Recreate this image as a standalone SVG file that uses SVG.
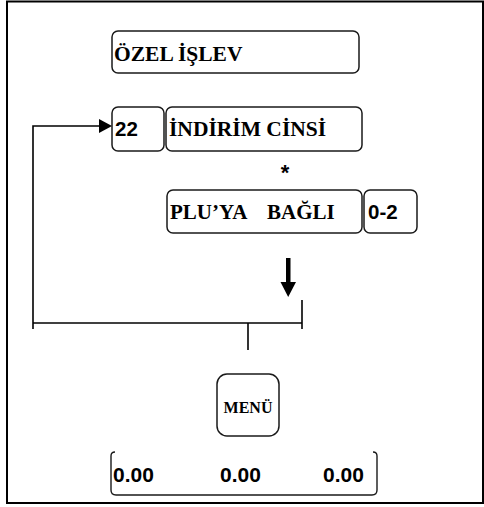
<svg xmlns="http://www.w3.org/2000/svg" width="484" height="507" viewBox="0 0 484 507">
<defs>
<style>
.box{fill:#fff;stroke:#1a1a1a;stroke-width:1.5}
.ln{fill:none;stroke:#000;stroke-width:1.6}
.serif{font-family:"Liberation Serif","Times New Roman",serif;font-weight:bold;fill:#000}
.sans{font-family:"Liberation Sans",Arial,sans-serif;font-weight:bold;fill:#000}
</style>
</defs>
<rect x="0" y="0" width="484" height="507" fill="#fff"/>
<rect id="frame" x="7" y="1.5" width="476" height="501.5" fill="none" stroke="#000" stroke-width="2"/>
<g id="n-ozel">
<rect class="box" x="112" y="31" width="247" height="42" rx="6"/>
<text class="serif" x="114" y="61" font-size="21.5">ÖZEL İŞLEV</text>
</g>
<g id="n-22">
<rect class="box" x="112" y="107" width="52" height="44" rx="6"/>
<text class="sans" x="115" y="136" font-size="20.5">22</text>
</g>
<g id="n-indirim">
<rect class="box" x="166" y="107" width="196" height="44" rx="6"/>
<text class="serif" x="169" y="136" font-size="21.5">İNDİRİM CİNSİ</text>
</g>
<g id="n-star">
<text class="sans" x="285" y="180" font-size="22" text-anchor="middle">*</text>
</g>
<g id="n-plu">
<rect class="box" x="167" y="190" width="195" height="43" rx="6"/>
<text class="serif" font-size="21" y="219"><tspan x="170">PLU’YA</tspan><tspan x="267">BAĞLI</tspan></text>
</g>
<g id="n-02">
<rect class="box" x="364" y="190" width="53" height="43" rx="6"/>
<text class="sans" x="368" y="219" font-size="20.5">0-2</text>
</g>
<g id="n-menu">
<rect class="box" x="217" y="374" width="62" height="62" rx="10"/>
<text class="serif" x="248" y="413" font-size="16" text-anchor="middle">MENÜ</text>
</g>
<g id="n-display">
<path class="ln" style="stroke-width:1.4;stroke:#1a1a1a" d="M115,452 Q111,452 111,456 L111,490 Q111,495 116,495 L372,495 Q377,495 377,490 L377,456 Q377,452 373,452"/>
<text class="sans" x="113" y="482" font-size="21">0.00</text>
<text class="sans" x="220" y="482" font-size="21">0.00</text>
<text class="sans" x="323" y="482" font-size="21">0.00</text>
</g>
<g id="connectors">
<polyline class="ln" points="33,329 33,126 100,126"/>
<polygon points="99,119 112,126 99,133" fill="#000"/>
<line class="ln" x1="33" y1="323" x2="302" y2="323"/>
<line class="ln" x1="302" y1="300" x2="302" y2="329"/>
<line class="ln" x1="248" y1="323" x2="248" y2="350"/>
<polygon points="286,258 290.5,258 290.5,282 296,282 288.2,297 280.5,282 286,282" fill="#000"/>
</g>
</svg>
